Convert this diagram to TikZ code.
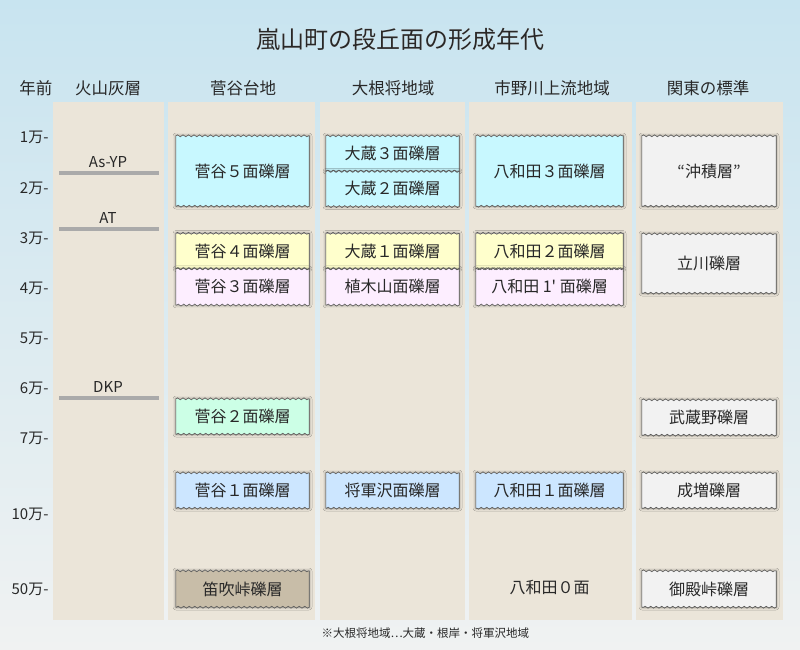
\documentclass[tikz,border=0pt]{standalone}
\usepackage{fontspec}
\setmainfont{Noto Sans CJK JP}[Ligatures=TeXOff]
\usetikzlibrary{positioning,decorations.pathmorphing,shadows.blur}
\definecolor{ink}{RGB}{40,40,40}
\definecolor{bgtop}{RGB}{200,228,240}
\definecolor{bgbot}{RGB}{240,242,242}
\definecolor{sand}{RGB}{235,229,217}
\definecolor{ash}{RGB}{170,170,170}
\definecolor{edgegray}{RGB}{90,90,90}
\definecolor{cyanbox}{RGB}{200,248,255}
\definecolor{yellowbox}{RGB}{255,255,204}
\definecolor{pinkbox}{RGB}{253,238,255}
\definecolor{mintbox}{RGB}{204,255,230}
\definecolor{bluebox}{RGB}{204,230,255}
\definecolor{tanbox}{RGB}{200,189,168}
\definecolor{greybox}{RGB}{242,242,242}
\tikzset{
  col/.style={fill=sand,draw=none},
  head/.style={font=\fontsize{16.5}{18}\selectfont,text=ink},
  year/.style={font=\fontsize{15}{16}\selectfont,text=ink,anchor=east},
  ashline/.style={draw=ash,line width=4pt},
  ashlbl/.style={font=\fontsize{15}{16}\selectfont,text=ink},
  layer/.style={inner sep=0pt,minimum width=133pt,minimum height=35pt,
    font=\fontsize{16}{18}\selectfont,text=ink,
    blur shadow={shadow xshift=0pt,shadow yshift=0pt,shadow blur radius=3pt,shadow opacity=45}},
  wide/.style={minimum width=147pt},
  wavy/.style={draw=edgegray,line width=.6pt,
    decoration={snake,amplitude=1pt,segment length=5.5pt}},
}
\begin{document}
\begin{tikzpicture}[x=1pt,y=-1pt]
  \useasboundingbox (0,0) rectangle (800,650);
  \shade[top color=bgtop,bottom color=bgbot] (0,0) rectangle (800,650);
  % title
  \node[font=\fontsize{24}{26}\selectfont,text=white] at (400.8,39.8) {嵐山町の段丘面の形成年代};
  \node[font=\fontsize{24}{26}\selectfont,text=ink] (title) at (400,39) {嵐山町の段丘面の形成年代};
  % columns
  \fill[col] (53,102) rectangle (164,620);
  \fill[col] (168,102) rectangle (315,620);
  \fill[col] (320,102) rectangle (465,620);
  \fill[col] (469,102) rectangle (632,620);
  \fill[col] (636,102) rectangle (783,620);
  % headers
  \node[head] (hyr) at (36,88) {年前};
  \node[head] (hash) at (108,88) {火山灰層};
  \node[head] (hsg) at (243,88) {菅谷台地};
  \node[head] (hon) at (393,88) {大根将地域};
  \node[head] (hic) at (552,88) {市野川上流地域};
  \node[head] (hkt) at (708,88) {関東の標準};
  % years
  \foreach \y/\t in {137/1万,188/2万,238/3万,288/4万,338/5万,388/6万,438/7万,514/10万,589/50万}
    \node[year] at (52,\y) {\t-};
  % ash layers
  \draw[ashline] (59,173) -- (159,173);
  \node[ashlbl] (asyp) at (108,162) {As-YP};
  \draw[ashline] (59,229) -- (159,229);
  \node[ashlbl] (at) at (108,218) {AT};
  \draw[ashline] (59,398) -- (159,398);
  \node[ashlbl] (dkp) at (108,387) {DKP};
  % 菅谷台地
  \node[layer,fill=cyanbox,minimum height=70pt] (s5) at (242.5,171) {菅谷５面礫層};
  \node[layer,fill=yellowbox] (s4) at (242.5,251) {菅谷４面礫層};
  \node[layer,fill=pinkbox,minimum height=36pt,below=0pt of s4] (s3) {菅谷３面礫層};
  \node[layer,fill=mintbox] (s2) at (242.5,416.5) {菅谷２面礫層};
  \node[layer,fill=bluebox] (s1) at (242.5,490.5) {菅谷１面礫層};
  \node[layer,fill=tanbox,minimum height=36pt] (fu) at (242.5,589) {笛吹峠礫層};
  % 大根将地域
  \node[layer,fill=cyanbox] (o3) at (392.5,153.5) {大蔵３面礫層};
  \node[layer,fill=cyanbox,below=0pt of o3] (o2) {大蔵２面礫層};
  \node[layer,fill=yellowbox] (o1) at (392.5,251) {大蔵１面礫層};
  \node[layer,fill=pinkbox,minimum height=36pt,below=0pt of o1] (ue) {植木山面礫層};
  \node[layer,fill=bluebox] (sg) at (392.5,490.5) {将軍沢面礫層};
  % 市野川上流地域
  \node[layer,wide,fill=cyanbox,minimum height=70pt] (y3) at (549.5,171) {八和田３面礫層};
  \node[layer,wide,fill=yellowbox] (y2) at (549.5,251) {八和田２面礫層};
  \node[layer,wide,fill=pinkbox,minimum height=36pt,below=0pt of y2] (y1p) {八和田 1' 面礫層};
  \node[layer,wide,fill=bluebox] (y1) at (549.5,490.5) {八和田１面礫層};
  \node[font=\fontsize{16}{18}\selectfont,text=ink] (y0) at (549.5,588) {八和田０面};
  % 関東の標準
  \node[layer,minimum width=134pt,fill=greybox,minimum height=70pt] (ch) at (709,171) {“沖積層”};
  \node[layer,minimum width=134pt,fill=greybox,minimum height=59pt] (tc) at (709,263.5) {立川礫層};
  \node[layer,minimum width=134pt,fill=greybox] (ms) at (709,417.5) {武蔵野礫層};
  \node[layer,minimum width=134pt,fill=greybox] (nr) at (709,490.5) {成増礫層};
  \node[layer,minimum width=134pt,fill=greybox,minimum height=36pt] (gt) at (709,589) {御殿峠礫層};
  % wavy outlines
  \foreach \n in {s5,s4,s3,s2,s1,fu,o3,o2,o1,ue,sg,y3,y2,y1p,y1,ch,tc,ms,nr,gt}
    \draw[wavy] (\n.north west) decorate{-- (\n.north east)} -- (\n.south east)
      decorate{-- (\n.south west)} -- cycle;
  % note
  \node[font=\fontsize{11.5}{12}\selectfont,text=ink,anchor=west] (note) at (318,633)
    {※大根将地域⋯大蔵・根岸・将軍沢地域};
\end{tikzpicture}
\end{document}
